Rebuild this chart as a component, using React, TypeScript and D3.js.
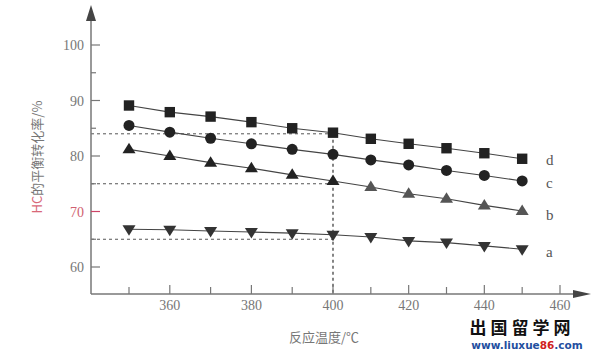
import React from "react";
import * as d3 from "d3";

const temps = [350, 360, 370, 380, 390, 400, 410, 420, 430, 440, 450];
const seriesA = [66.8, 66.7, 66.5, 66.3, 66.1, 65.8, 65.4, 64.7, 64.4, 63.8, 63.2];
const seriesB = [81.2, 80.0, 78.8, 77.8, 76.6, 75.5, 74.4, 73.2, 72.3, 71.1, 70.1];
const seriesC = [85.5, 84.3, 83.2, 82.2, 81.2, 80.3, 79.3, 78.4, 77.4, 76.5, 75.5];
const seriesD = [89.1, 87.9, 87.1, 86.1, 85.0, 84.2, 83.1, 82.2, 81.4, 80.5, 79.5];
const seriesNames = ["a", "b", "c", "d"];
const xTickLabels = [360, 380, 400, 420, 440, 460];
const xMinorTicks = [350, 370, 390, 410, 430, 450];
const yTickLabels = [60, 70, 80, 90, 100];
const yMinorTicks = [65, 75, 85, 95];
const guideValues = [84, 75, 65];
const guideTemp = 400;

const W = 610;
const H = 353;
const axisX = 91;
const axisY = 294;

export default function App() {
  const x = d3.scaleLinear().domain([350, 400, 460]).range([129, 333, 560]);
  const y = d3.scaleLinear().domain([60, 100]).range([267, 45]);
  const line = d3
    .line<number>()
    .x((_, i) => x(temps[i]))
    .y((v) => y(v));

  const all = [seriesA, seriesB, seriesC, seriesD];
  const grey = "#777";
  const serif = "'Liberation Serif', 'DejaVu Serif', serif";
  const cjk = "'Noto Sans CJK SC', sans-serif";

  const marker = (k: number, cx: number, cy: number, key: string) => {
    const fill = k === 1 && cx > 350 ? "#555" : k === 0 ? "#333" : "#222";
    if (k === 3) return <rect key={key} x={cx - 5.2} y={cy - 5.2} width={10.4} height={10.4} fill={fill} />;
    if (k === 2) return <circle key={key} cx={cx} cy={cy} r={5.5} fill={fill} />;
    if (k === 1)
      return <path key={key} d={`M${cx - 6.5},${cy + 4}L${cx + 6.5},${cy + 4}L${cx},${cy - 6.5}Z`} fill={fill} />;
    return <path key={key} d={`M${cx - 6.5},${cy - 4}L${cx + 6.5},${cy - 4}L${cx},${cy + 6.5}Z`} fill={fill} />;
  };

  const labelOffsets = [8, 9, 7, 6];
  const labelY = all.map((s, k) => y(s[s.length - 1]) + labelOffsets[k]);

  return (
    <svg width={W} height={H} style={{ position: "absolute", left: 0, top: 0, background: "#fff" }}>
      {/* guide dashed lines */}
      {guideValues.map((v) => (
        <line key={"g" + v} x1={axisX} x2={x(guideTemp)} y1={y(v)} y2={y(v)} stroke="#555" strokeWidth={1} strokeDasharray="3,3" />
      ))}
      <line x1={x(guideTemp)} x2={x(guideTemp)} y1={y(84)} y2={axisY} stroke="#444" strokeWidth={1.3} strokeDasharray="3,3" />

      {/* axes */}
      <line x1={axisX} x2={axisX} y1={axisY} y2={18} stroke={grey} strokeWidth={1.5} />
      <path d={`M${axisX - 5},21L${axisX + 5},21L${axisX},5Z`} fill="#444" />
      <line x1={axisX} x2={576} y1={axisY} y2={axisY} stroke={grey} strokeWidth={1.5} />
      <path d={`M573,${axisY - 4}L573,${axisY + 4}L591,${axisY}Z`} fill="#444" />

      {/* y ticks */}
      {yTickLabels.map((v) => (
        <g key={"yt" + v}>
          <line x1={axisX} x2={axisX + 9} y1={y(v)} y2={y(v)} stroke={v === 70 ? "#c46" : grey} strokeWidth={1.2} />
          <text x={84} y={y(v) + 5} textAnchor="end" fontFamily={serif} fontSize={14} fill={v === 70 ? "#d06070" : grey}>
            {v}
          </text>
        </g>
      ))}
      {yMinorTicks.map((v) => (
        <line key={"ym" + v} x1={axisX} x2={axisX + 5} y1={y(v)} y2={y(v)} stroke={grey} strokeWidth={1.2} />
      ))}

      {/* x ticks */}
      {xTickLabels.map((v) => (
        <g key={"xt" + v}>
          <line x1={x(v)} x2={x(v)} y1={axisY} y2={axisY - 9} stroke={grey} strokeWidth={1.2} />
          <text x={x(v)} y={310} textAnchor="middle" fontFamily={serif} fontSize={14} fill={grey}>
            {v}
          </text>
        </g>
      ))}
      {xMinorTicks.map((v) => (
        <line key={"xm" + v} x1={x(v)} x2={x(v)} y1={axisY} y2={axisY - 7} stroke={grey} strokeWidth={1.2} />
      ))}

      {/* series lines and markers */}
      {all.map((s, k) => (
        <path key={"l" + k} d={line(s) || ""} fill="none" stroke="#444" strokeWidth={1.1} />
      ))}
      {all.map((s, k) => s.map((v, i) => marker(k, x(temps[i]), y(v), `m${k}-${i}`)))}

      {/* series labels */}
      {seriesNames.map((n, k) => (
        <text key={"n" + n} x={546} y={labelY[k]} fontFamily={serif} fontSize={15} fill="#555">
          {n}
        </text>
      ))}

      {/* axis titles */}
      <text x={324} y={342} textAnchor="middle" fontFamily={cjk} fontSize={13} fill={grey}>
        反应温度/℃
      </text>
      <text transform="translate(42,157) rotate(-90)" textAnchor="middle" fontFamily={cjk} fontSize={13} fill={grey}>
        <tspan fill="#d86878">HC</tspan>的平衡转化率/%
      </text>

      {/* watermark */}
      <text x={522} y={334} textAnchor="middle" fontFamily={cjk} fontSize={17} fontWeight="bold" fill="#111" letterSpacing={4}>
        出国留学网
      </text>
      <text x={527} y={349} textAnchor="middle" fontFamily="'DejaVu Sans', sans-serif" fontSize={10.5} fontWeight="bold" fill="#1f4fa0">
        www.liuxue<tspan fill="#d02020">86</tspan>.com
      </text>
    </svg>
  );
}
